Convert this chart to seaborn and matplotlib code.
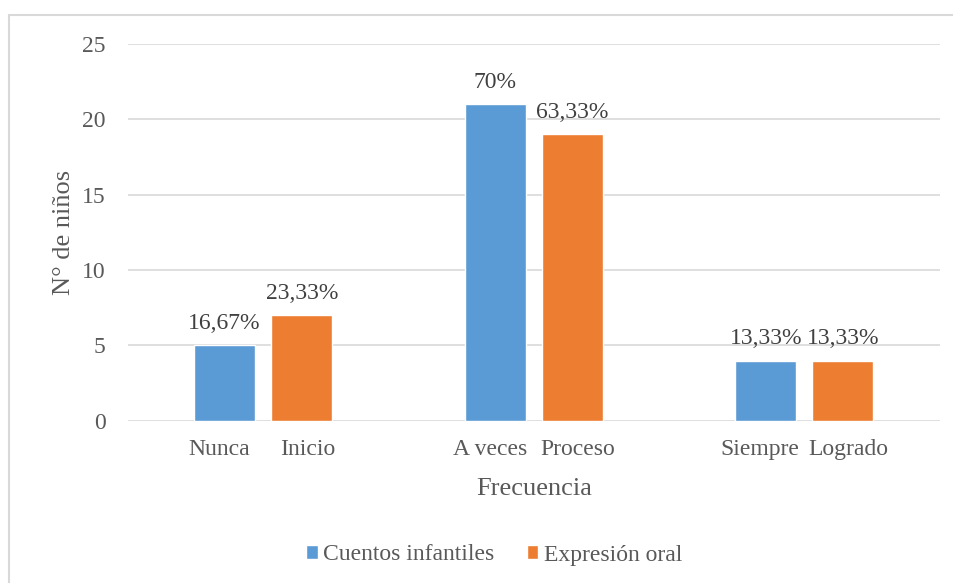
import seaborn as sns
import matplotlib.pyplot as plt
import matplotlib.transforms as mtransforms
import pandas as pd
from matplotlib.lines import Line2D

# data
grupos = ["G1", "G2", "G3"]
cuentos = [5, 21, 4]
expresion = [7, 19, 4]
etq_cuentos = ["Nunca", "A veces", "Siempre"]
etq_expresion = ["Inicio", "Proceso", "Logrado"]
pct_cuentos = ["16,67%", "70%", "13,33%"]
pct_expresion = ["23,33%", "63,33%", "13,33%"]
series = ["Cuentos infantiles", "Expresión oral"]

df = pd.DataFrame({
    "grupo": grupos * 2,
    "valor": cuentos + expresion,
    "serie": [series[0]] * 3 + [series[1]] * 3,
})

sns.set_style("white")
plt.rcParams["font.family"] = ["Liberation Serif", "DejaVu Serif"]
gris = "#595959"

fig = plt.figure(figsize=(9.54, 5.83), dpi=100)
ax = fig.add_axes([0.134, 0.278, 0.851, 0.647])

# light frame of the chart area (only top and left edges are inside the image)
x0, y0 = 9.5 / 954, 1 - 15 / 583
fig.add_artist(Line2D([x0, 1], [y0, y0], transform=fig.transFigure,
                      color="#d9d9d9", linewidth=1.5))
fig.add_artist(Line2D([x0, x0], [0, y0], transform=fig.transFigure,
                      color="#d9d9d9", linewidth=1.5))

sns.barplot(data=df, x="grupo", y="valor", hue="serie",
            palette=["#5B9BD5", "#ED7D31"], width=0.57, gap=0.21,
            ax=ax, saturation=1, legend=True)

ax.set_ylim(0, 25)
ax.set_yticks(range(0, 26, 5))
ax.yaxis.grid(True, color="#d9d9d9", linewidth=1.2)
ax.set_axisbelow(True)
for s in ax.spines.values():
    s.set_visible(False)

# bar labels and per-bar tick labels
centros = []
for cont, pct in zip(ax.containers, [pct_cuentos, pct_expresion]):
    ax.bar_label(cont, labels=pct, padding=8, fontsize=17, color="#404040")
    centros += [p.get_x() + p.get_width() / 2 for p in cont.patches]
ax.set_xticks(centros)
ax.set_xticklabels(etq_cuentos + etq_expresion)
ax.tick_params(axis="x", labelsize=17, labelcolor=gris, length=0, pad=13)
ax.tick_params(axis="y", labelsize=17, labelcolor=gris, length=0, pad=16)

# spread the two labels of each group a little apart
for i, lab in enumerate(ax.get_xticklabels()):
    dx = -4 / 72 if i < 3 else 4 / 72
    lab.set_transform(lab.get_transform() +
                      mtransforms.ScaledTranslation(dx, 0, fig.dpi_scale_trans))

ax.set_xlabel("Frecuencia", fontsize=19, color=gris, labelpad=13)
ax.set_ylabel("N° de niños", fontsize=19, color=gris, labelpad=5)

handles, labels = ax.get_legend_handles_labels()
ax.get_legend().remove()
fig.legend(handles, labels, loc="center", bbox_to_anchor=(0.518, 1 - 555 / 583),
           ncol=2, frameon=False, fontsize=17, labelcolor=gris,
           handlelength=0.5, handleheight=0.5, handletextpad=0.25,
           columnspacing=1.35, borderpad=0)

fig.savefig("out.png", dpi=100)
